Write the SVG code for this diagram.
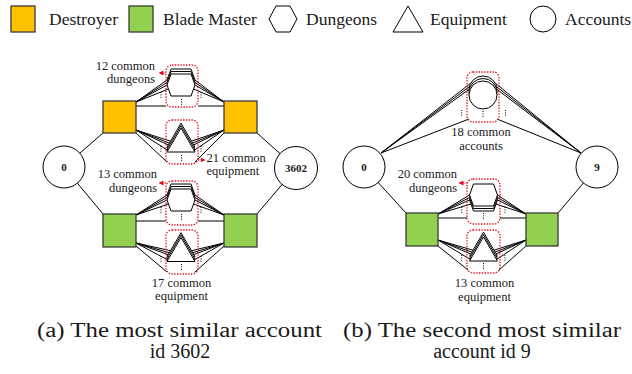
<svg xmlns="http://www.w3.org/2000/svg" width="632" height="374" viewBox="0 0 632 374" font-family="'Liberation Serif', 'Times New Roman', serif">
<style>
.sq-o{fill:#FFC000;stroke:#3b3b3b;stroke-width:1.3}
.sq-g{fill:#92D050;stroke:#3b3b3b;stroke-width:1.3}
.shape{fill:#fff;stroke:#000;stroke-width:1}
.main{fill:#fff;stroke:#000;stroke-width:1}
.box{fill:none;stroke:#e0101e;stroke-width:1.3;stroke-dasharray:1.4 1.4}
.edge{stroke:#000;stroke-width:1;fill:none}
.dots{stroke:#000;stroke-width:1;stroke-dasharray:1 1.4}
.arr{stroke:#e0101e;stroke-width:1;stroke-dasharray:1.4 1;marker-end:url(#ah)}
.t{font-family:'Liberation Serif','Times New Roman',serif;fill:#1a1a1a}
.lbl{font-size:12.5px}
.leg{font-size:17.5px}
.cap{font-size:20px}
.id{font-weight:bold;font-size:11px;text-anchor:middle}
</style>
<defs>
<marker id="ah" markerUnits="userSpaceOnUse" markerWidth="5" markerHeight="5" refX="4.5" refY="2.5" orient="auto">
<path d="M0,0 L5,2.5 L0,5 z" fill="#e0101e"/>
</marker>
<polygon id="hex" class="shape" points="-10,-11 10,-11 14,0 10,11 -10,11 -14,0"/>
<polygon id="tri" class="shape" points="0,-12 14,12 -14,12"/>
<circle id="acc" class="shape" r="14"/>
</defs>

<!-- Legend -->
<g id="legend" class="t leg" font-family="'Liberation Serif', serif">
<rect class="sq-o" x="11" y="6" width="24" height="26"/>
<text x="49" y="25">Destroyer</text>
<rect class="sq-g" x="129" y="6" width="24" height="26"/>
<text x="163" y="25">Blade Master</text>
<polygon class="shape" points="276,6 290,6 297,19 290,32 276,32 269,19"/>
<text x="306" y="25">Dungeons</text>
<polygon class="shape" points="408,6 423,32 393,32"/>
<text x="430" y="25">Equipment</text>
<circle class="shape" cx="543" cy="19" r="13"/>
<text x="565" y="25">Accounts</text>
</g>

<!-- Connectors -->
<g id="connectors">
<line class="edge" x1="64" y1="167" x2="103" y2="133"/>
<line class="edge" x1="64" y1="167" x2="103" y2="214"/>
<line class="edge" x1="296" y1="168" x2="257" y2="133"/>
<line class="edge" x1="296" y1="168" x2="257" y2="214"/>
<line class="edge" x1="136" y1="102" x2="167" y2="80"/>
<line class="edge" x1="136" y1="102" x2="167" y2="82.5"/>
<line class="edge" x1="136" y1="102" x2="167" y2="85"/>
<line class="edge" x1="136" y1="102" x2="168.5" y2="89"/>
<line class="edge" x1="136" y1="106" x2="166" y2="106"/>
<line class="edge" x1="224" y1="102" x2="195" y2="80"/>
<line class="edge" x1="224" y1="102" x2="195" y2="82.5"/>
<line class="edge" x1="224" y1="102" x2="195" y2="85"/>
<line class="edge" x1="224" y1="102" x2="193.5" y2="89"/>
<line class="edge" x1="198" y1="106" x2="224" y2="106"/>
<line class="edge" x1="136" y1="130" x2="170.5" y2="141.2"/>
<line class="edge" x1="136" y1="130" x2="170.5" y2="143.6"/>
<line class="edge" x1="136" y1="130" x2="170.5" y2="146"/>
<line class="edge" x1="136" y1="130" x2="168" y2="150.5"/>
<line class="edge" x1="136" y1="133" x2="167" y2="162"/>
<line class="edge" x1="224" y1="130" x2="191.5" y2="141.2"/>
<line class="edge" x1="224" y1="130" x2="191.5" y2="143.6"/>
<line class="edge" x1="224" y1="130" x2="191.5" y2="146"/>
<line class="edge" x1="224" y1="130" x2="194" y2="150.5"/>
<line class="edge" x1="224" y1="133" x2="195" y2="162"/>
<line class="edge" x1="136" y1="215" x2="167" y2="195"/>
<line class="edge" x1="136" y1="215" x2="167" y2="197.5"/>
<line class="edge" x1="136" y1="215" x2="167" y2="200"/>
<line class="edge" x1="136" y1="215" x2="168.5" y2="204"/>
<line class="edge" x1="136" y1="221" x2="166" y2="221"/>
<line class="edge" x1="224" y1="215" x2="195" y2="195"/>
<line class="edge" x1="224" y1="215" x2="195" y2="197.5"/>
<line class="edge" x1="224" y1="215" x2="195" y2="200"/>
<line class="edge" x1="224" y1="215" x2="193.5" y2="204"/>
<line class="edge" x1="198" y1="221" x2="224" y2="221"/>
<line class="edge" x1="136" y1="243" x2="170.5" y2="250.7"/>
<line class="edge" x1="136" y1="243" x2="170.5" y2="253.1"/>
<line class="edge" x1="136" y1="243" x2="170.5" y2="255.5"/>
<line class="edge" x1="136" y1="243" x2="168" y2="260"/>
<line class="edge" x1="136" y1="246" x2="167" y2="272"/>
<line class="edge" x1="224" y1="243" x2="191.5" y2="250.7"/>
<line class="edge" x1="224" y1="243" x2="191.5" y2="253.1"/>
<line class="edge" x1="224" y1="243" x2="191.5" y2="255.5"/>
<line class="edge" x1="224" y1="243" x2="194" y2="260"/>
<line class="edge" x1="224" y1="246" x2="195" y2="272"/>
<line class="edge" x1="381" y1="153" x2="470.9" y2="83"/>
<line class="edge" x1="381" y1="153" x2="470.9" y2="85.5"/>
<line class="edge" x1="381" y1="153" x2="470.9" y2="88"/>
<line class="edge" x1="381" y1="153" x2="469" y2="119"/>
<line class="edge" x1="581" y1="153" x2="495.1" y2="83"/>
<line class="edge" x1="581" y1="153" x2="495.1" y2="85.5"/>
<line class="edge" x1="581" y1="153" x2="495.1" y2="88"/>
<line class="edge" x1="581" y1="153" x2="497" y2="119"/>
<line class="edge" x1="364" y1="167" x2="406" y2="213"/>
<line class="edge" x1="597" y1="167" x2="558" y2="213"/>
<line class="edge" x1="438" y1="214" x2="469.5" y2="195"/>
<line class="edge" x1="438" y1="214" x2="469.5" y2="197.5"/>
<line class="edge" x1="438" y1="214" x2="469.5" y2="200"/>
<line class="edge" x1="438" y1="214" x2="471" y2="204"/>
<line class="edge" x1="438" y1="218" x2="467" y2="218"/>
<line class="edge" x1="526" y1="214" x2="497.5" y2="195"/>
<line class="edge" x1="526" y1="214" x2="497.5" y2="197.5"/>
<line class="edge" x1="526" y1="214" x2="497.5" y2="200"/>
<line class="edge" x1="526" y1="214" x2="496" y2="204"/>
<line class="edge" x1="500" y1="218" x2="526" y2="218"/>
<line class="edge" x1="438" y1="240" x2="473" y2="250.2"/>
<line class="edge" x1="438" y1="240" x2="473" y2="252.6"/>
<line class="edge" x1="438" y1="240" x2="473" y2="255"/>
<line class="edge" x1="438" y1="240" x2="470.5" y2="259.5"/>
<line class="edge" x1="438" y1="246" x2="468" y2="270"/>
<line class="edge" x1="526" y1="240" x2="494" y2="250.2"/>
<line class="edge" x1="526" y1="240" x2="494" y2="252.6"/>
<line class="edge" x1="526" y1="240" x2="494" y2="255"/>
<line class="edge" x1="526" y1="240" x2="496.5" y2="259.5"/>
<line class="edge" x1="526" y1="246" x2="499" y2="270"/>
</g>

<!-- Panel a nodes -->
<g id="a-account-0"><circle class="main" cx="64" cy="167" r="21"/><text class="t id" x="64" y="171">0</text></g>
<g id="a-account-3602"><circle class="main" cx="296" cy="168" r="21.5"/><text class="t id" x="296" y="172">3602</text></g>
<g id="a-destroyer-0"><rect class="sq-o" x="103" y="101" width="33" height="32"/></g>
<g id="a-destroyer-3602"><rect class="sq-o" x="224" y="101" width="33" height="32"/></g>
<g id="a-blade-0"><rect class="sq-g" x="103" y="214" width="33" height="33"/></g>
<g id="a-blade-3602"><rect class="sq-g" x="224" y="214" width="33" height="33"/></g>
<g id="a-destroyer-dungeons">
<use href="#hex" x="181" y="80"/><use href="#hex" x="181" y="82.5"/><use href="#hex" x="181" y="85"/>
<rect class="box" x="166" y="65" width="32" height="42" rx="6"/>
</g>
<g id="a-destroyer-equipment">
<use href="#tri" x="181" y="135.2"/><use href="#tri" x="181" y="137.6"/><use href="#tri" x="181" y="140"/>
<rect class="box" x="166" y="120" width="32" height="44" rx="6"/>
</g>
<g id="a-blade-dungeons">
<use href="#hex" x="181" y="195"/><use href="#hex" x="181" y="197.5"/><use href="#hex" x="181" y="200"/>
<rect class="box" x="166" y="181" width="32" height="44" rx="6"/>
</g>
<g id="a-blade-equipment">
<use href="#tri" x="181" y="244.7"/><use href="#tri" x="181" y="247.1"/><use href="#tri" x="181" y="249.5"/>
<rect class="box" x="166" y="230" width="32" height="44" rx="6"/>
</g>

<!-- Panel b nodes -->
<g id="b-account-0"><circle class="main" cx="364" cy="167" r="21"/><text class="t id" x="364" y="171">0</text></g>
<g id="b-account-9"><circle class="main" cx="597" cy="167" r="21"/><text class="t id" x="597" y="171">9</text></g>
<g id="b-blade-0"><rect class="sq-g" x="406" y="213" width="32" height="33"/></g>
<g id="b-blade-9"><rect class="sq-g" x="526" y="213" width="32" height="33"/></g>
<g id="b-common-accounts">
<use href="#acc" x="483" y="90"/><use href="#acc" x="483" y="92.5"/><use href="#acc" x="483" y="95"/>
<rect class="box" x="467" y="72" width="32" height="50" rx="6"/>
</g>
<g id="b-blade-dungeons">
<use href="#hex" x="483.5" y="200"/><use href="#hex" x="483.5" y="197.5"/><use href="#hex" x="483.5" y="195"/>
<rect class="box" x="467" y="179" width="33" height="45" rx="6"/>
</g>
<g id="b-blade-equipment">
<use href="#tri" x="483.5" y="244.2"/><use href="#tri" x="483.5" y="246.6"/><use href="#tri" x="483.5" y="249"/>
<rect class="box" x="467" y="230" width="33" height="43" rx="6"/>
</g>

<g id="ellipses">
<line class="dots" x1="161" y1="92" x2="161" y2="99"/>
<line class="dots" x1="201" y1="92" x2="201" y2="99"/>
<line class="dots" x1="181.5" y1="99" x2="181.5" y2="105"/>
<line class="dots" x1="161" y1="146" x2="161" y2="153"/>
<line class="dots" x1="201" y1="146" x2="201" y2="153"/>
<line class="dots" x1="181.5" y1="155" x2="181.5" y2="161"/>
<line class="dots" x1="161" y1="207" x2="161" y2="214"/>
<line class="dots" x1="201" y1="207" x2="201" y2="214"/>
<line class="dots" x1="181.5" y1="214" x2="181.5" y2="220"/>
<line class="dots" x1="161" y1="256" x2="161" y2="263"/>
<line class="dots" x1="201" y1="256" x2="201" y2="263"/>
<line class="dots" x1="181.5" y1="264" x2="181.5" y2="270"/>
<line class="dots" x1="461.7" y1="110" x2="461.7" y2="117"/>
<line class="dots" x1="505.5" y1="110" x2="505.5" y2="117"/>
<line class="dots" x1="483" y1="111" x2="483" y2="117"/>
<line class="dots" x1="461.7" y1="207" x2="461.7" y2="214"/>
<line class="dots" x1="505" y1="207" x2="505" y2="214"/>
<line class="dots" x1="483.5" y1="213" x2="483.5" y2="219"/>
<line class="dots" x1="461.7" y1="255" x2="461.7" y2="262"/>
<line class="dots" x1="505" y1="255" x2="505" y2="262"/>
<line class="dots" x1="483.5" y1="263" x2="483.5" y2="269"/>
</g>

<g id="label-arrows">
<line class="arr" x1="166" y1="73" x2="159" y2="73"/>
<line class="arr" x1="198" y1="160" x2="205" y2="160"/>
<line class="arr" x1="166" y1="183" x2="159" y2="183"/>
<line class="arr" x1="467" y1="183" x2="459" y2="183"/>
</g>

<g id="labels" class="t lbl" font-family="'Liberation Serif', serif">
<text x="155" y="70" text-anchor="end">12 common</text>
<text x="155" y="83" text-anchor="end">dungeons</text>
<text x="206.5" y="162">21 common</text>
<text x="206.5" y="175">equipment</text>
<text x="157" y="178" text-anchor="end">13 common</text>
<text x="157" y="192" text-anchor="end">dungeons</text>
<text x="181.5" y="287" text-anchor="middle">17 common</text>
<text x="181.5" y="300" text-anchor="middle">equipment</text>
<text x="481" y="136" text-anchor="middle">18 common</text>
<text x="481" y="150" text-anchor="middle">accounts</text>
<text x="457" y="178" text-anchor="end">20 common</text>
<text x="457" y="192" text-anchor="end">dungeons</text>
<text x="484.5" y="287" text-anchor="middle">13 common</text>
<text x="484.5" y="301" text-anchor="middle">equipment</text>
</g>

<g id="captions" class="t cap" font-family="'Liberation Serif', serif">
<text x="37" y="337" textLength="285" lengthAdjust="spacingAndGlyphs">(a) The most similar account</text>
<text x="180" y="358" text-anchor="middle">id 3602</text>
<text x="343" y="337" textLength="278" lengthAdjust="spacingAndGlyphs">(b) The second most similar</text>
<text x="482" y="358" text-anchor="middle">account id 9</text>
</g>
</svg>
